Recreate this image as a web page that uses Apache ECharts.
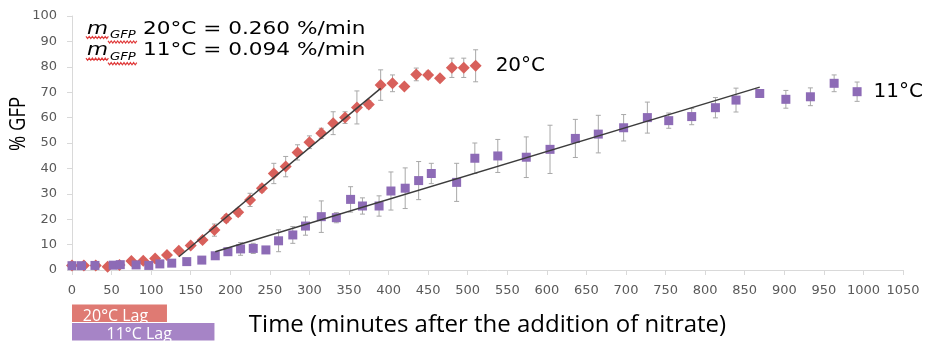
<!DOCTYPE html>
<html>
<head>
<meta charset="utf-8">
<script src="https://cdn.jsdelivr.net/npm/echarts@6/dist/echarts.min.js"></script>
<style>
  html, body { margin: 0; padding: 0; background: #ffffff; }
  #chart { width: 927px; height: 344px; }
</style>
</head>
<body>
<div id="chart"></div>
<script>
// GFP expression over time after nitrate addition, at 20°C and 11°C
const time20 = [0,15,30,45,60,75,90,105,120,135,150,165,180,195,210,225,240,255,270,285,300,315,330,345,360,375,390,405,420,435,450,465,480,495,510];
const gfp20  = [1.8,1.8,1.8,1.3,2.0,3.5,3.6,4.5,5.9,7.6,9.6,11.8,15.7,20.3,22.7,27.6,32.2,38.0,40.7,46.3,50.3,53.8,57.8,60.0,64.0,65.2,72.8,73.5,72.2,77.0,76.8,75.5,79.6,79.6,80.4];
const err20  = [0.8,0.8,0.8,0.8,0.8,0.8,0.8,0.8,0.8,0.8,1,1.2,2.4,1.5,1.5,2.6,1.5,4,4,3,2.5,2,4.5,2.3,6.5,1.5,6,3.3,1,2.5,1.5,1,3.8,3.8,6.3];

const time11 = [0,12,29,52,61,81,97,111,126,145,164,181,197,213,229,245,261,279,295,315,334,352,367,388,403,421,438,454,486,509,538,574,604,636,665,697,727,754,783,813,839,869,902,933,963,992];
const gfp11  = [1.7,1.7,1.8,1.9,2.1,2.0,1.8,2.4,2.7,3.3,3.9,5.6,7.2,8.3,8.5,7.9,11.5,13.8,17.3,21.0,20.6,27.8,25.2,25.2,31.1,32.2,35.2,38.0,34.5,44.0,44.9,44.4,47.5,51.8,53.5,56.0,60.0,58.8,60.4,63.9,66.9,69.5,67.2,68.2,73.5,70.2];
const err11  = [0.8,0.8,0.8,0.8,0.8,0.8,0.8,0.8,0.8,0.8,0.8,1,1.5,2.5,2,1,4.3,3.3,3.6,6.2,2,5,3.2,4,7.5,8,7.5,4,7.5,6,6.5,8,9.5,7.5,7.4,5.2,6.1,3,3.2,4,4.7,1.5,3.5,3.5,3.3,3.8];

// Linear fits over the exponential phase: [time, %GFP] endpoints
const fit20 = [[135, 5.2], [390, 71.5]];
const fit11 = [[181, 7.2], [869, 72.0]];
const slope20 = '0.260';
const slope11 = '0.094';

// Lag phases (minutes)
const lagNames = ['20°C Lag', '11°C Lag'];
const lagEnds  = [120, 180];

const xTicks = { min: 0, max: 1050, interval: 50 };
const yTicks = { min: 0, max: 100, interval: 10 };

const RED = '#d8605b';
const PURPLE = '#8d6bb6';

function pts(t, v) { return t.map((x, i) => [x, v[i]]); }
function errs(t, v, e) { return t.map((x, i) => [x, v[i] - e[i], v[i] + e[i]]); }

function renderErr(params, api) {
  const x = api.value(0);
  const lo = api.coord([x, api.value(1)]);
  const hi = api.coord([x, api.value(2)]);
  const cap = 2.5;
  const style = { stroke: '#a8a8a8', lineWidth: 1 };
  return {
    type: 'group',
    children: [
      { type: 'line', shape: { x1: lo[0], y1: lo[1], x2: hi[0], y2: hi[1] }, style },
      { type: 'line', shape: { x1: lo[0] - cap, y1: lo[1], x2: lo[0] + cap, y2: lo[1] }, style },
      { type: 'line', shape: { x1: hi[0] - cap, y1: hi[1], x2: hi[0] + cap, y2: hi[1] }, style }
    ]
  };
}

function renderLag(params, api) {
  const idx = api.value(0);
  const end = api.value(1);
  const p0 = api.coord([0, idx]);
  const p1 = api.coord([end, idx]);
  const h = api.size([0, 1])[1] - 1;
  const colors = ['#df7a73', '#a684c6'];
  return {
    type: 'group',
    children: [
      { type: 'rect', shape: { x: p0[0], y: p0[1] - h / 2, width: p1[0] - p0[0], height: h },
        style: { fill: colors[idx] } },
      { type: 'text', x: (p0[0] + p1[0]) / 2 - 4, y: p0[1] + 3,
        style: { text: lagNames[idx], fill: '#ffffff', font: '16px "Open Sans"', align: 'center', verticalAlign: 'middle' } }
    ]
  };
}

function wavy(x0, x1, y) {
  const p = [];
  let up = true;
  for (let x = x0; x <= x1; x += 1.6) { p.push([x, y + (up ? -1.1 : 1.1)]); up = !up; }
  return { type: 'polyline', shape: { points: p }, style: { stroke: '#e03a3a', lineWidth: 1.2, fill: null }, silent: true };
}

const chart = echarts.init(document.getElementById('chart'), null, { renderer: 'canvas' });

const labelFont = { fontFamily: 'DejaVu Sans', fontSize: 13, color: '#595959', formatter: v => String(v) };

const option = {
  animation: false,
  backgroundColor: '#ffffff',
  grid: [
    { left: 72, right: 24, top: 16, bottom: 74 },
    { left: 72, right: 24, top: 304, height: 37 }
  ],
  xAxis: [
    {
      type: 'value', gridIndex: 0, min: xTicks.min, max: xTicks.max, interval: xTicks.interval,
      name: 'Time (minutes after the addition of nitrate)', nameLocation: 'middle', nameGap: 43,
      nameMoveOverlap: false,
      nameTextStyle: { fontFamily: 'Open Sans', fontSize: 24, color: '#000000' },
      axisLine: { show: true, lineStyle: { color: '#d9d9d9' } },
      axisTick: { show: true, length: 5, lineStyle: { color: '#d9d9d9' } },
      axisLabel: Object.assign({ margin: 14 }, labelFont),
      splitLine: { show: false }
    },
    { type: 'value', gridIndex: 1, min: xTicks.min, max: xTicks.max, show: false }
  ],
  yAxis: [
    {
      type: 'value', gridIndex: 0, min: yTicks.min, max: yTicks.max, interval: yTicks.interval,
      axisLine: { show: true, lineStyle: { color: '#d9d9d9' } },
      axisTick: { show: true, length: 5, lineStyle: { color: '#d9d9d9' } },
      axisLabel: Object.assign({ margin: 15 }, labelFont),
      splitLine: { show: false }
    },
    { type: 'category', gridIndex: 1, data: lagNames, inverse: true, show: false }
  ],
  series: [
    { type: 'custom', name: 'err20', xAxisIndex: 0, yAxisIndex: 0, renderItem: renderErr,
      data: errs(time20, gfp20, err20), z: 1, encode: { x: 0, y: [1, 2] } },
    { type: 'custom', name: 'err11', xAxisIndex: 0, yAxisIndex: 0, renderItem: renderErr,
      data: errs(time11, gfp11, err11), z: 1, encode: { x: 0, y: [1, 2] } },
    {
      type: 'scatter', name: '20°C', symbol: 'diamond', symbolSize: 12, z: 3,
      itemStyle: { color: RED, opacity: 1 },
      data: pts(time20, gfp20).map((d, i, a) => i === a.length - 1
        ? { value: d, label: { show: true, position: 'right', distance: 14, formatter: '20°C',
            fontFamily: 'DejaVu Sans', fontSize: 20, color: '#000000' } }
        : d)
    },
    {
      type: 'scatter', name: '11°C', symbol: 'rect', symbolSize: 9, z: 4,
      itemStyle: { color: PURPLE, opacity: 1 },
      data: pts(time11, gfp11).map((d, i, a) => i === a.length - 1
        ? { value: d, label: { show: true, position: 'right', distance: 12, formatter: '11°C',
            fontFamily: 'DejaVu Sans', fontSize: 20, color: '#000000' } }
        : d)
    },
    { type: 'line', name: 'fit20', data: fit20, symbol: 'none', z: 5,
      lineStyle: { color: '#3c3c3c', width: 1.5 } },
    { type: 'line', name: 'fit11', data: fit11, symbol: 'none', z: 5,
      lineStyle: { color: '#3c3c3c', width: 1.5 } },
    { type: 'custom', name: 'lag', xAxisIndex: 1, yAxisIndex: 1, renderItem: renderLag,
      data: lagEnds.map((e, i) => [i, e]), encode: { x: 1, y: 0 } }
  ],
  graphic: [
    // y-axis title
    { type: 'text', x: 19, y: 124, rotation: Math.PI / 2, scaleX: 0.88,
      style: { text: '% GFP', font: '21px "Open Sans"', fill: '#000', align: 'center', verticalAlign: 'middle' } },
    // slope annotation
    {
      type: 'group', x: 87, y: 0, scaleX: 1.2,
      children: [
        { type: 'text', x: 0, y: 29, style: { text: 'm', font: 'italic 18px "DejaVu Sans"', fill: '#000', verticalAlign: 'middle' } },
        { type: 'text', x: 19.2, y: 35, style: { text: 'GFP', font: 'italic 11px "DejaVu Sans"', fill: '#000', verticalAlign: 'middle' } },
        { type: 'text', x: 46.7, y: 29, style: { text: '20°C = ' + slope20 + ' %/min', font: '18px "DejaVu Sans"', fill: '#000', verticalAlign: 'middle' } },
        { type: 'text', x: 0, y: 50.7, style: { text: 'm', font: 'italic 18px "DejaVu Sans"', fill: '#000', verticalAlign: 'middle' } },
        { type: 'text', x: 19.2, y: 56.7, style: { text: 'GFP', font: 'italic 11px "DejaVu Sans"', fill: '#000', verticalAlign: 'middle' } },
        { type: 'text', x: 46.7, y: 50.7, style: { text: '11°C = ' + slope11 + ' %/min', font: '18px "DejaVu Sans"', fill: '#000', verticalAlign: 'middle' } }
      ]
    },
    wavy(86, 109, 37.5),
    wavy(108, 137, 42),
    wavy(86, 109, 59.2),
    wavy(108, 137, 63.7)
  ]
};

chart.setOption(option);
</script>
</body>
</html>
